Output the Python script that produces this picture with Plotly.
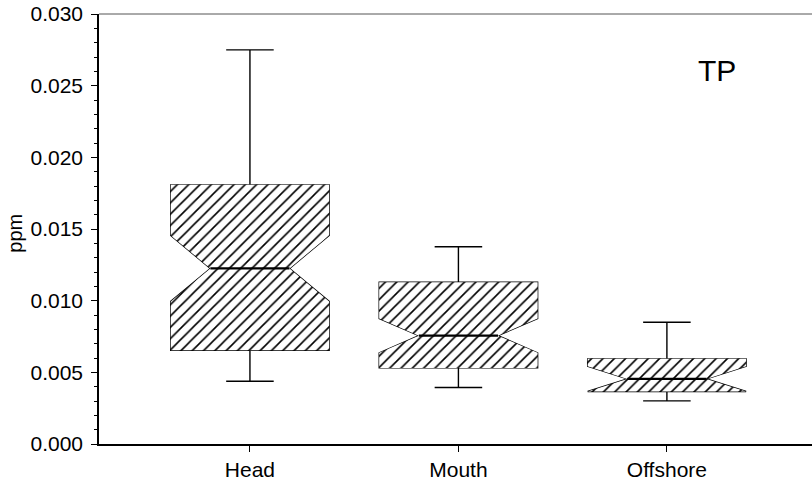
import plotly.graph_objects as go

categories = ["Head", "Mouth", "Offshore"]
lower_whisker = [0.00438, 0.00394, 0.00301]
q1 = [0.00654, 0.00531, 0.00366]
median = [0.01225, 0.00756, 0.00454]
q3 = [0.01808, 0.01128, 0.00594]
upper_whisker = [0.0275, 0.01376, 0.00849]
notch_span = [0.0023, 0.0012, 0.00088]
y_ticks = [0.000, 0.005, 0.010, 0.015, 0.020, 0.025, 0.030]

positions = list(range(len(categories)))
box_width = 0.76
notch_width = 0.25
hw = box_width / 2
mhw = hw * (1 - 2 * notch_width)

# hatched fill polygon built from the box statistics
px, py = [], []
for p, a, m, b, ns in zip(positions, q1, median, q3, notch_span):
    px += [p - hw, p - hw, p - mhw, p - hw, p - hw, p + hw, p + hw, p + mhw, p + hw, p + hw, p - hw, None]
    py += [a, m - ns, m, m + ns, b, b, m + ns, m, m - ns, a, a, None]

fig = go.Figure()
fig.add_trace(go.Scatter(
    x=px, y=py, mode="lines", fill="toself",
    line=dict(width=0, color="rgba(0,0,0,0)"),
    fillcolor="white",
    fillpattern=dict(shape="/", size=8, solidity=0.2, fgcolor="#000000", fgopacity=1,
                     bgcolor="white", fillmode="replace"),
    hoverinfo="skip", showlegend=False,
))
fig.add_trace(go.Box(
    x=positions, q1=q1, median=median, q3=q3,
    lowerfence=lower_whisker, upperfence=upper_whisker,
    notchspan=notch_span, notched=True, notchwidth=notch_width,
    width=box_width, whiskerwidth=0.3,
    fillcolor="rgba(0,0,0,0)", line=dict(color="black", width=1.4),
    boxpoints=False, showlegend=False,
))
# slightly heavier median segments
mx, my = [], []
for p, m in zip(positions, median):
    mx += [p - mhw, p + mhw, None]
    my += [m, m, None]
fig.add_trace(go.Scatter(x=mx, y=my, mode="lines", line=dict(color="black", width=2.2),
                         hoverinfo="skip", showlegend=False))

font_family = "Liberation Sans, Arial, sans-serif"
fig.update_layout(
    width=812, height=491,
    margin=dict(l=99, r=0, t=14, b=46.5),
    paper_bgcolor="white", plot_bgcolor="white",
    font=dict(family=font_family, size=21, color="black"),
    showlegend=False,
)
fig.update_xaxes(
    range=[-0.724, 2.696], tickvals=positions, ticktext=categories,
    showgrid=False, zeroline=False, showline=True, linecolor="black", linewidth=1.5,
    ticks="outside", ticklen=6, tickcolor="black", tickwidth=1.2, automargin=False,
)
fig.update_yaxes(
    range=[0, 0.030], tickvals=y_ticks, tickformat=".3f",
    showgrid=False, zeroline=False, showline=True, linecolor="black", linewidth=1.5,
    ticks="outside", ticklen=6, tickcolor="black", tickwidth=1.2, automargin=False,
    ticklabelstandoff=4,
    minor=dict(dtick=0.001, ticks="outside", ticklen=3, tickcolor="black", tickwidth=1, showgrid=False),
)
fig.add_shape(type="line", xref="paper", yref="paper", x0=0, x1=1, y0=1, y1=1,
              line=dict(color="#555555", width=1))
fig.add_annotation(text="TP", xref="paper", yref="paper", x=0.8668, y=0.8676,
                   showarrow=False, font=dict(size=30, family=font_family), xanchor="center", yanchor="middle")
fig.add_annotation(text="ppm", xref="paper", yref="paper", x=-0.118, y=0.491, textangle=-90,
                   showarrow=False, font=dict(size=20, family=font_family), xanchor="center", yanchor="middle")

fig.write_html("out.html", config={"displayModeBar": False},
               post_script="document.body.style.margin='0';document.body.style.overflow='hidden';")
